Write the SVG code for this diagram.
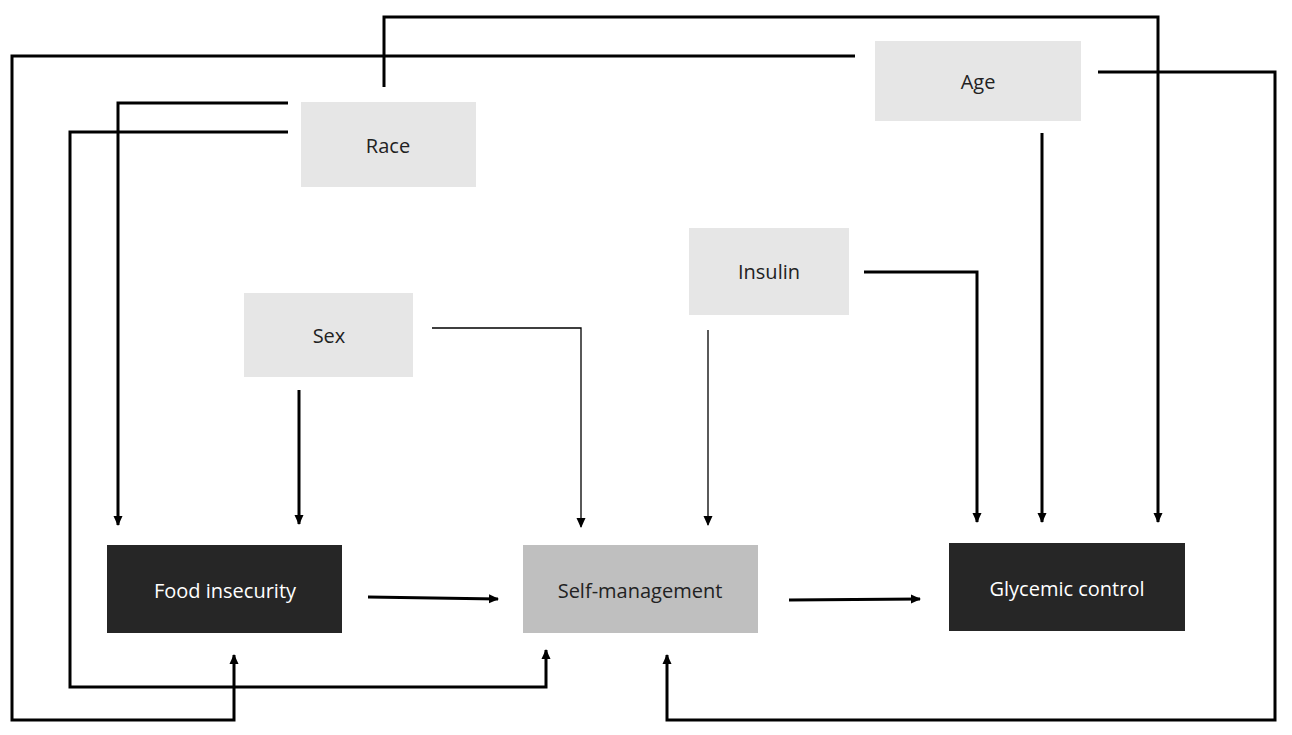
<svg xmlns="http://www.w3.org/2000/svg" width="1292" height="735" viewBox="0 0 1292 735">
<style>
.lt{fill:#e6e6e6}
.t{font-family:"Open Sans","Liberation Sans",sans-serif;font-size:20px;text-anchor:middle;dominant-baseline:central;fill:#222}
.w{fill:#fff}
.c{fill:none;stroke:#000;stroke-width:3}
.th{stroke-width:1.3}
</style>
<defs>
<marker id="a" markerWidth="10" markerHeight="10" refX="9" refY="5" orient="auto" markerUnits="userSpaceOnUse"><path d="M0,0.5 L10,5 L0,9.5Z" fill="#000"/></marker>
</defs>
<rect width="1292" height="735" fill="#fff"/>
<g id="connectors">
<path class="c" d="M384,87 V17 H1158 V522" marker-end="url(#a)"/>
<path class="c" d="M855,56 H12 V720 H234 V655" marker-end="url(#a)"/>
<path class="c" d="M288,103 H118 V525" marker-end="url(#a)"/>
<path class="c" d="M288,132 H70 V687 H546 V650" marker-end="url(#a)"/>
<path class="c" d="M1098,72 H1275 V720 H667 V655" marker-end="url(#a)"/>
<path class="c" d="M1042,133 V522" marker-end="url(#a)"/>
<path class="c" d="M864,272 H977 V522" marker-end="url(#a)"/>
<path class="c th" d="M708,330 V525" marker-end="url(#a)"/>
<path class="c th" d="M432,328 H581 V527" marker-end="url(#a)"/>
<path class="c" d="M299,390 V524" marker-end="url(#a)"/>
<path class="c" d="M368,597 L498,599" marker-end="url(#a)"/>
<path class="c" d="M789,600 L920,599" marker-end="url(#a)"/>
</g>
<g id="age"><rect class="lt" x="875" y="41" width="206" height="80"/><text class="t" x="978" y="81">Age</text></g>
<g id="race"><rect class="lt" x="301" y="102" width="175" height="85"/><text class="t" x="388" y="145">Race</text></g>
<g id="insulin"><rect class="lt" x="689" y="228" width="160" height="87"/><text class="t" x="769" y="271">Insulin</text></g>
<g id="sex"><rect class="lt" x="244" y="293" width="169" height="84"/><text class="t" x="329" y="335">Sex</text></g>
<g id="food"><rect fill="#262626" x="107" y="545" width="235" height="88"/><text class="t w" x="225" y="590">Food insecurity</text></g>
<g id="self"><rect fill="#bfbfbf" x="523" y="545" width="235" height="88"/><text class="t" x="640" y="590">Self-management</text></g>
<g id="glycemic"><rect fill="#262626" x="949" y="543" width="236" height="88"/><text class="t w" x="1067" y="588">Glycemic control</text></g>
</svg>
